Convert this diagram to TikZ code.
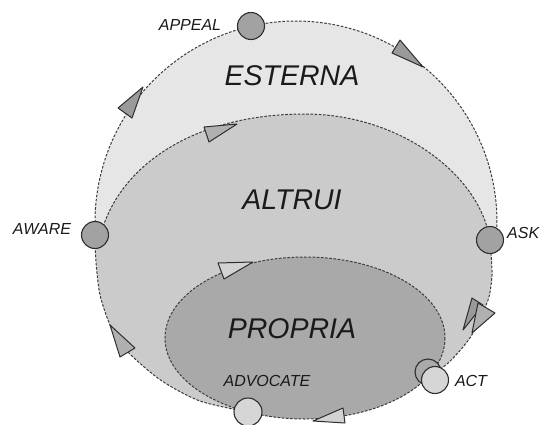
\documentclass[tikz,border=0pt]{standalone}
\usepackage{fontspec}
\setmainfont{Liberation Sans}
\definecolor{outerc}{HTML}{E6E6E6}
\definecolor{midc}{HTML}{CBCBCB}
\definecolor{innerc}{HTML}{A9A9A9}
\definecolor{dotc}{HTML}{A2A2A2}
\definecolor{lightdot}{HTML}{D6D6D6}
\definecolor{arrdark}{HTML}{9A9A9A}
\definecolor{arrmid}{HTML}{B0B0B0}
\definecolor{arrlight}{HTML}{D2D2D2}
\definecolor{linec}{HTML}{3C3C3C}
\definecolor{edgec}{HTML}{2E2E2E}
\definecolor{txtc}{HTML}{1A1A1A}
\begin{document}
\begin{tikzpicture}[x=1pt,y=-1pt,
  dline/.style={draw=linec, line width=1pt, dash pattern=on 2.6pt off 1.6pt},
  ring/.style={circle, draw=edgec, line width=1.1pt, minimum size=27pt, inner sep=0pt},
  arrowtri/.style={draw=edgec, line width=1pt, line join=round},
  smalllab/.style={font=\fontsize{16}{19}\selectfont\itshape, text=txtc, inner sep=0pt},
  zonetitle/.style={font=\fontsize{28.5}{32}\selectfont\itshape, text=txtc, inner sep=0pt}]
\useasboundingbox (0,0) rectangle (541,424);
% shared boundary pieces
\def\rightside{(491,253) (492,275) (489,297) (482,314) (473,333) (463,347) (447,364) (426,379)}
\def\leftside{(248,412) (200,401) (162,381) (133,357) (121,343) (110,325) (100,295) (96,262) (95,235)}
\def\midtop{(95,240) -- (100,237) .. controls (118,165) and (195,114) .. (305,114) .. controls (400,114) and (480,175) .. (490,240) -- (491,253)}
% outer zone
\fill[outerc] plot[domain=176.3:365, samples=90, variable=\t] ({296+201*cos(\t)},{222+201*sin(\t)})
  -- plot[smooth] coordinates {\rightside}
  -- plot[domain=30:114, samples=40, variable=\t] ({305+140*cos(\t)},{338+81*sin(\t)})
  -- plot[smooth] coordinates {\leftside} -- cycle;
% middle zone
\fill[midc] \midtop
  -- plot[smooth] coordinates {\rightside}
  -- plot[domain=30:114, samples=40, variable=\t] ({305+140*cos(\t)},{338+81*sin(\t)})
  -- plot[smooth] coordinates {\leftside} -- cycle;
% inner zone
\fill[innerc] (305,338) ellipse [x radius=140, y radius=81];
% dashed outlines
\draw[dline] plot[domain=176.3:365, samples=90, variable=\t] ({296+201*cos(\t)},{222+201*sin(\t)});
\draw[dline] \midtop;
\draw[dline] plot[smooth] coordinates {\rightside};
\draw[dline] plot[smooth] coordinates {\leftside};
\draw[dline] (305,338) ellipse [x radius=140, y radius=81];
% arrow triangles
\filldraw[arrowtri, fill=arrdark] (400,40) -- (392,53) -- (423,67) -- cycle;
\filldraw[arrowtri, fill=arrdark] (118,108) -- (143,87) -- (132,118) -- cycle;
\filldraw[arrowtri, fill=arrmid] (204,127) -- (237,124) -- (209,142) -- cycle;
\filldraw[arrowtri, fill=arrlight] (218,263) -- (253,262) -- (224,279) -- cycle;
\filldraw[arrowtri, fill=arrmid] (110,325) -- (135,348) -- (120,357) -- cycle;
\filldraw[arrowtri, fill=arrlight] (313,421) -- (343,408) -- (345,423) -- cycle;
\filldraw[arrowtri, fill=arrdark] (472,298) -- (483,305) -- (463,330) -- cycle;
\filldraw[arrowtri, fill=arrmid] (478,303) -- (495,313) -- (472,333) -- cycle;
% stage circles
\node[ring, fill=dotc] (appeal) at (251,26) {};
\node[ring, fill=dotc] (aware) at (95,235) {};
\node[ring, fill=dotc] (ask) at (490,240) {};
\node[ring, fill=innerc, minimum size=26pt] (actback) at (428,372) {};
\node[ring, fill=lightdot] (act) at (435,380) {};
\node[ring, fill=lightdot, minimum size=28pt] (advocate) at (248,412) {};
% labels
\node[smalllab] (lappeal) at (190,25) {APPEAL};
\node[smalllab] (laware) at (42,229) {AWARE};
\node[smalllab, anchor=west] (lask) at (507,233) {ASK};
\node[smalllab] (lact) at (471,381) {ACT};
\node[smalllab] (ladvocate) at (267,381) {ADVOCATE};
\node[zonetitle] (esterna) at (292,76) {ESTERNA};
\node[zonetitle] (altrui) at (292,200) {ALTRUI};
\node[zonetitle] (propria) at (292,329) {PROPRIA};
\end{tikzpicture}
\end{document}
